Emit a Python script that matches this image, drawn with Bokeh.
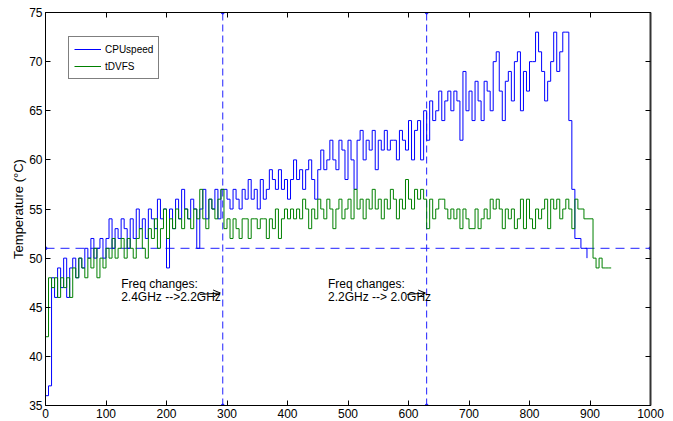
from bokeh.plotting import figure
from bokeh.models import Range1d, LinearAxis, Legend, LegendItem, Label, Arrow, OpenHead, FixedTicker
from bokeh.embed import file_html
from bokeh.resources import INLINE

# ---------------- data ----------------
sample_step = 5  # seconds between samples

cpuspeed = [
    36, 37, 48, 46, 49, 47, 50, 46, 49, 50, 48, 50, 49, 51, 50, 52, 50, 51, 52, 50,
    52, 54, 51, 53, 52, 54, 53, 51, 54, 52, 55, 53, 54, 52, 55, 54, 53, 56, 54, 55,
    49, 55, 53, 56, 54, 57, 55, 54, 56, 55, 51, 55, 57, 54, 56, 55, 57, 54, 57, 57,
    56, 55, 57, 56, 55, 57, 56, 58, 56, 57, 55, 58, 56, 57, 59, 58, 57, 59, 57, 58,
    56, 58, 60, 58, 59, 57, 59, 60, 58, 56, 59, 61, 59, 60, 62, 60, 59, 62, 61, 58,
    62, 60, 57, 62, 63, 60, 62, 61, 63, 59, 62, 61, 63, 61, 62, 62, 60, 63, 62, 61,
    64, 60, 63, 64, 60, 65, 62, 66, 64, 65, 67, 64, 66, 67, 65, 67, 66, 62, 69, 65,
    67, 64, 68, 66, 64, 68, 67, 65, 70, 71, 67, 64, 68, 69, 66, 70, 71, 65, 69, 67,
    70, 70, 73, 71, 69, 66, 68, 70, 73, 69, 71, 73, 73, 64, 57, 52, 52, 51, 51, 50,
]

tdvfs = [
    42, 48, 47, 48, 46, 48, 47, 48, 46, 49, 48, 50, 49, 48, 50, 49, 51, 48, 50, 49,
    51, 50, 52, 50, 51, 52, 50, 52, 51, 50, 52, 53, 51, 50, 53, 52, 54, 51, 53, 55,
    52, 54, 53, 55, 54, 53, 55, 54, 53, 55, 54, 57, 54, 53, 56, 55, 54, 56, 57, 53,
    54, 52, 54, 53, 52, 54, 54, 52, 54, 54, 53, 54, 54, 52, 54, 53, 55, 52, 54, 55,
    54, 55, 54, 55, 54, 56, 55, 53, 55, 54, 56, 55, 54, 56, 55, 53, 55, 56, 54, 55,
    56, 54, 57, 55, 56, 54, 56, 55, 57, 55, 56, 54, 56, 55, 57, 56, 54, 56, 55, 58,
    56, 55, 57, 56, 57, 56, 53, 56, 54, 55, 56, 56, 55, 54, 55, 54, 55, 53, 55, 54,
    53, 53, 55, 53, 54, 55, 54, 56, 55, 56, 55, 53, 55, 54, 55, 53, 54, 56, 53, 56,
    54, 53, 55, 54, 55, 56, 53, 56, 55, 56, 54, 55, 56, 55, 53, 56, 55, 55, 54, 54,
    54, 50, 49, 50, 49, 49, 49, 49,
]

cpu_time = [i * sample_step for i in range(len(cpuspeed))]
dvfs_time = [i * sample_step for i in range(len(tdvfs))]

x_limits = [0, 1000]
y_limits = [35, 75]
x_ticks = [0, 100, 200, 300, 400, 500, 600, 700, 800, 900, 1000]
y_ticks = [35, 40, 45, 50, 55, 60, 65, 70, 75]

freq_change_times = [293, 630]
threshold_temp = 51

annot_x = [125, 467]
annot_line1 = ["Freq changes:", "Freq changes:"]
annot_line2 = ["2.4GHz -->2.2GHz", "2.2GHz --> 2.0GHz"]
annot_y = [47.4, 46.0]
arrow_x_start = [255, 598]
arrow_x_end = [289, 628]
arrow_y = [46.3, 46.45]

FONT = "Liberation Sans"

# ---------------- figure ----------------
p = figure(width=673, height=421, output_backend="svg", toolbar_location=None,
           x_range=Range1d(*x_limits), y_range=Range1d(*y_limits),
           min_border_left=45, min_border_right=23, min_border_top=12, min_border_bottom=16)
p.grid.visible = False
p.outline_line_color = "black"
p.background_fill_color = "white"
p.border_fill_color = "white"

xt = FixedTicker(ticks=x_ticks)
yt = FixedTicker(ticks=y_ticks)


def style_axis(ax, show_labels=True):
    ax.major_tick_in = 5
    ax.major_tick_out = 0
    ax.minor_tick_line_color = None
    ax.axis_line_color = "black"
    ax.major_tick_line_color = "black"
    if show_labels:
        ax.major_label_text_font = FONT
        ax.major_label_text_font_size = "12px"
        ax.major_label_text_color = "black"
        ax.major_label_standoff = 3
    else:
        ax.major_label_text_font_size = "0px"
        ax.major_label_text_color = None
        ax.major_label_standoff = 0


p.xaxis[0].ticker = xt
p.yaxis[0].ticker = yt
style_axis(p.xaxis[0])
style_axis(p.yaxis[0])
p.yaxis[0].axis_label = "Temperature (°C)"
p.yaxis[0].axis_label_text_font = FONT
p.yaxis[0].axis_label_text_font_size = "13px"
p.yaxis[0].axis_label_text_font_style = "normal"
p.yaxis[0].axis_label_text_color = "black"
p.yaxis[0].axis_label_standoff = 0

top_axis = LinearAxis(ticker=xt)
style_axis(top_axis, show_labels=False)
p.add_layout(top_axis, "above")
right_axis = LinearAxis(ticker=yt)
style_axis(right_axis, show_labels=False)
right_axis.axis_line_width = 2
right_axis.axis_line_color = "#333333"
p.add_layout(right_axis, "right")

# reference dashed lines
for t in freq_change_times:
    p.line([t, t], y_limits, line_color="#2020ff", line_dash="7 4", line_width=1)
    p.scatter([t, t], y_limits, size=3, color="#2020ff")
p.line(x_limits, [threshold_temp, threshold_temp], line_color="#2020ff", line_dash="9 6", line_width=1)
p.scatter(x_limits, [threshold_temp, threshold_temp], size=3, color="#2020ff")

# series
r_cpu = p.step(cpu_time, cpuspeed, mode="after", line_color="#0000ff", line_width=1)
r_dvfs = p.step(dvfs_time, tdvfs, mode="after", line_color="#008000", line_width=1)

# annotations
for i in range(len(annot_x)):
    p.add_layout(Label(x=annot_x[i], y=annot_y[0], text=annot_line1[i], text_baseline="middle",
                       text_font=FONT, text_font_size="12px", text_color="black"))
    p.add_layout(Label(x=annot_x[i], y=annot_y[1], text=annot_line2[i], text_baseline="middle",
                       text_font=FONT, text_font_size="12px", text_color="black"))
    p.add_layout(Arrow(end=OpenHead(size=7, line_width=1, line_color="black"),
                       x_start=arrow_x_start[i], y_start=arrow_y[0],
                       x_end=arrow_x_end[i], y_end=arrow_y[1],
                       line_color="black", line_width=1))

legend = Legend(items=[LegendItem(label="CPUspeed", renderers=[r_cpu]),
                       LegendItem(label="tDVFS", renderers=[r_dvfs])],
                location=(23, 326), padding=5, spacing=3, margin=0,
                glyph_width=27, glyph_height=14, label_height=14, label_standoff=4,
                label_text_font=FONT, label_text_font_size="10px", label_text_color="black",
                border_line_color="black", border_line_width=1,
                background_fill_color="white", background_fill_alpha=1)
p.add_layout(legend)

open("out.html", "w").write(file_html(p, INLINE))
